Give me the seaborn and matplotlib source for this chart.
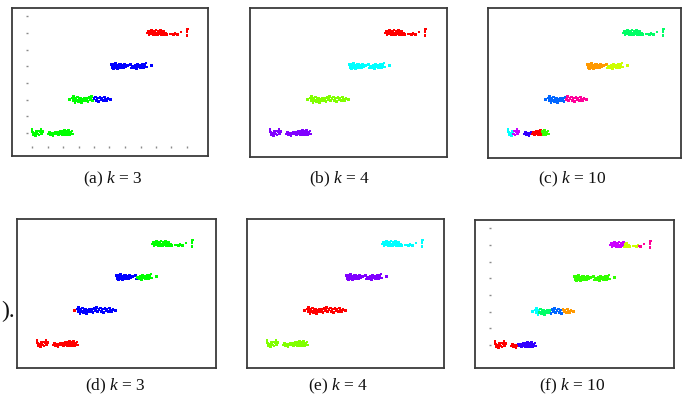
import colorsys

import matplotlib
matplotlib.use("Agg")
import matplotlib.pyplot as plt
import numpy as np
import pandas as pd
import seaborn as sns

# ---------------------------------------------------------------------------
# Data: four elongated groups on a staircase (row = 1..4)
# ---------------------------------------------------------------------------
row1_x = [0.00, 0.05, 0.12, 0.18, 0.25, 0.30, 0.33, 0.40, 0.45, 0.52, 0.58, 0.62, 0.70,
          1.05, 1.12, 1.20, 1.28, 1.35, 1.42, 1.50, 1.58, 1.65, 1.72, 1.80, 1.86, 1.92,
          1.98, 2.05, 2.10, 2.15, 2.20, 2.25, 2.30, 2.35, 2.40, 2.45, 2.52, 2.58, 2.60]
row1_y = [1.10, 1.03, 0.95, 1.00, 0.92, 1.05, 0.97, 1.06, 0.94, 1.03, 1.10, 0.98, 1.05,
          0.97, 1.03, 0.95, 1.00, 0.92, 0.98, 1.03, 0.97, 1.02, 0.94, 1.05, 0.98, 1.06,
          0.95, 1.02, 1.08, 0.94, 1.00, 1.05, 0.95, 1.08, 1.00, 0.94, 1.03, 1.06, 0.97]

row2_x = [2.42, 2.58, 2.65, 2.70, 2.74, 2.78, 2.83, 2.88, 2.93, 2.98, 3.03, 3.08, 3.14,
          3.20, 3.26, 3.33, 3.40, 3.47, 3.55, 3.62, 3.70, 3.78, 3.85, 3.92, 4.00, 4.08,
          4.15, 4.22, 4.30, 4.38, 4.45, 4.52, 4.60, 4.68, 4.75, 4.82, 4.90, 5.00, 5.08]
row2_y = [2.00, 2.05, 1.97, 2.10, 2.00, 1.92, 2.05, 1.97, 2.08, 1.94, 2.02, 1.95, 2.03,
          1.92, 2.00, 1.97, 2.05, 1.98, 2.03, 1.95, 2.06, 2.00, 2.10, 1.97, 2.03, 2.08,
          1.98, 2.05, 1.95, 2.06, 2.00, 2.05, 1.97, 2.08, 2.02, 1.97, 2.05, 2.02, 2.00]

row3_x = [5.12, 5.16, 5.20, 5.25, 5.30, 5.34, 5.38, 5.43, 5.48, 5.52, 5.57, 5.62, 5.66,
          5.72, 5.78, 5.84, 5.90, 5.96, 6.05, 6.15, 6.35, 6.42, 6.48, 6.58, 6.70, 6.76,
          6.82, 6.88, 6.95, 7.02, 7.08, 7.14, 7.20, 7.28, 7.35, 7.40, 7.70]
row3_y = [3.06, 2.97, 3.05, 2.94, 3.03, 2.98, 3.08, 2.95, 3.03, 2.92, 3.02, 3.06, 2.97,
          3.05, 2.95, 3.02, 2.97, 3.05, 2.98, 3.03, 3.06, 2.95, 3.00, 2.97, 3.03, 2.94,
          3.05, 2.98, 3.03, 2.95, 3.02, 3.06, 2.97, 3.05, 3.10, 2.98, 3.03]

row4_x = [7.45, 7.50, 7.55, 7.62, 7.68, 7.72, 7.78, 7.84, 7.90, 7.95, 8.00, 8.05, 8.10,
          8.16, 8.22, 8.28, 8.33, 8.38, 8.44, 8.50, 8.55, 8.62, 8.68, 8.92, 9.15, 9.22,
          9.30, 9.40, 9.62, 10.00, 10.00, 10.02]
row4_y = [4.00, 4.06, 3.95, 4.03, 3.97, 4.08, 4.02, 3.95, 4.05, 3.94, 4.09, 4.00, 3.95,
          4.06, 3.98, 4.08, 3.94, 4.03, 3.97, 4.05, 3.94, 4.00, 3.95, 3.97, 3.95, 4.00,
          3.97, 3.95, 4.03, 3.93, 4.04, 4.12]

# Cluster assignments per panel: for each row, (upper x bound, cluster index)
labels_a = [[(99, 1)], [(3.95, 1), (99, 2)], [(99, 2)], [(99, 0)]]
labels_b = [[(99, 3)], [(99, 1)], [(99, 2)], [(99, 0)]]
labels_c = [[(0.30, 5), (0.95, 8), (1.50, 7), (2.20, 0), (99, 3)],
            [(3.70, 6), (99, 9)],
            [(6.35, 1), (99, 2)],
            [(99, 4)]]
labels_d = [[(99, 0)], [(2.50, 0), (99, 2)], [(6.45, 2), (99, 1)], [(99, 1)]]
labels_e = [[(99, 1)], [(99, 0)], [(99, 3)], [(99, 2)]]
labels_f = [[(1.45, 0), (99, 7)],
            [(2.85, 5), (3.60, 4), (4.35, 6), (99, 1)],
            [(99, 3)],
            [(8.30, 8), (9.25, 2), (99, 9)]]

k_values = [3, 4, 10, 3, 4, 10]
letters = ["a", "b", "c", "d", "e", "f"]
panel_labels = [labels_a, labels_b, labels_c, labels_d, labels_e, labels_f]

tick_x = [0, 1, 2, 3, 4, 5, 6, 7, 8, 9, 10]
tick_y = [1.0, 1.5, 2.0, 2.5, 3.0, 3.5, 4.0, 4.5]
# which faint axis ticks each panel shows: (x ticks, y ticks)
show_ticks = [(True, True), (False, False), (False, False),
              (False, False), (False, False), (False, True)]

# ---------------------------------------------------------------------------
# Layout (pixel geometry of the figure)
# ---------------------------------------------------------------------------
W, H = 689, 399
frames = [(12, 8, 196, 148), (250, 8, 197, 149), (488, 8, 193, 150),
          (17, 219, 199, 149), (247, 219, 197, 149), (475, 220, 199, 148)]
captions_xy = [(113, 179), (340, 179), (572, 179),
               (115, 386), (338, 386), (572, 386)]
X0_PX, PX_PER_X = 20.0, 15.5   # x = 0 sits 20 px from a frame's left edge
Y1_PX, PX_PER_Y = 125.0, 33.3  # y = 1 sits 125 px below a frame's top edge

sns.set_style("white")
plt.rcParams["font.family"] = ["Liberation Serif", "DejaVu Serif"]
plt.rcParams["mathtext.fontset"] = "custom"
plt.rcParams["mathtext.it"] = "Liberation Serif:italic"
plt.rcParams["mathtext.rm"] = "Liberation Serif"

rows_x = [row1_x, row2_x, row3_x, row4_x]
rows_y = [row1_y, row2_y, row3_y, row4_y]


def assign(row_idx, x, segments):
    for upper, lab in segments[row_idx]:
        if x <= upper:
            return lab
    return segments[row_idx][-1][1]


fig = plt.figure(figsize=(W / 100, H / 100), dpi=100)

for i in range(6):
    left, top, w, h = frames[i]
    ax = fig.add_axes([left / W, 1 - (top + h) / H, w / W, h / H])
    xlim = (-X0_PX / PX_PER_X, (w - X0_PX) / PX_PER_X)
    ylim = (1 - (h - Y1_PX) / PX_PER_Y, 1 + Y1_PX / PX_PER_Y)

    recs = []
    for r in range(4):
        for x, y in zip(rows_x[r], rows_y[r]):
            recs.append({"x": x, "y": y, "cluster": assign(r, x, panel_labels[i])})
    df = pd.DataFrame(recs)
    k = k_values[i]
    palette = {c: colorsys.hsv_to_rgb(c / k, 1.0, 1.0) for c in range(k)}
    sns.scatterplot(data=df, x="x", y="y", hue="cluster", palette=palette,
                    marker="s", s=4, linewidth=0, legend=False, ax=ax)

    ax.set_xlim(*xlim)
    ax.set_ylim(*ylim)
    ax.set_xticks([])
    ax.set_yticks([])
    ax.set_xlabel("")
    ax.set_ylabel("")
    for sp in ax.spines.values():
        sp.set_visible(True)
        sp.set_color("#3a3a3a")
        sp.set_linewidth(1.3)

    sx, sy = show_ticks[i]
    if sx or sy:
        bx0 = -0.39
        by0 = 0.55
        inner = ax.inset_axes([bx0, by0, xlim[1] - bx0, ylim[1] - by0],
                              transform=ax.transData)
        inner.set_xlim(bx0, xlim[1])
        inner.set_ylim(by0, ylim[1])
        inner.patch.set_alpha(0)
        for sp in inner.spines.values():
            sp.set_visible(False)
        inner.set_xticks(tick_x if sx else [])
        inner.set_yticks(tick_y if sy else [])
        inner.tick_params(bottom=sx, left=sy, top=False, right=False,
                          direction="in", length=1.3, width=1.0, color="#8a8a8a",
                          labelbottom=False, labelleft=False)

    cx, cy = captions_xy[i]
    fig.text(cx / W, 1 - cy / H, f"({letters[i]}) $k$ = {k}", ha="center",
             va="center", fontsize=12.5, color="#111111")

fig.text(1 / W, 1 - 311 / H, ").", ha="left", va="center", fontsize=17,
         color="#111111")

fig.savefig("out.png", dpi=100)
